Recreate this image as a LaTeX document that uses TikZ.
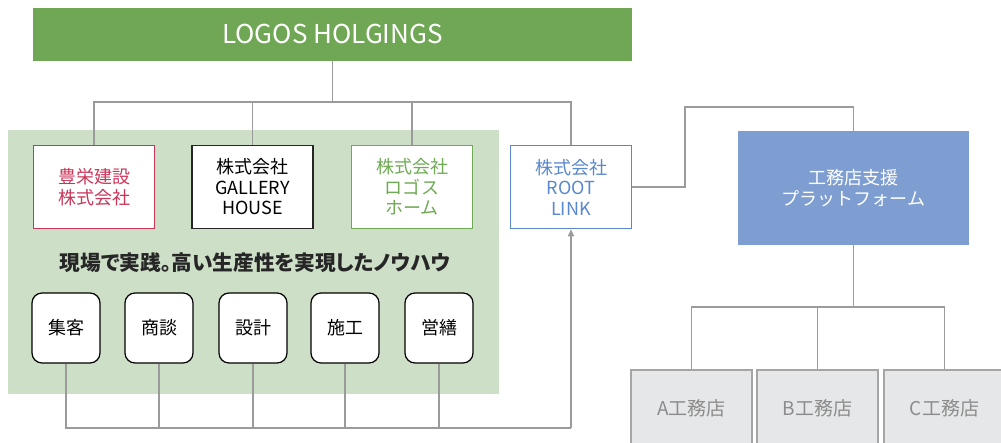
\documentclass[tikz,border=0pt]{standalone}
\usepackage{fontspec}
\setmainfont{Noto Sans CJK JP}
\usetikzlibrary{arrows.meta}
\definecolor{topgreen}{HTML}{70A754}
\definecolor{bggreen}{HTML}{CDDFC7}
\definecolor{redc}{HTML}{C8375A}
\definecolor{greenc}{HTML}{6FAB54}
\definecolor{bluec}{HTML}{5A88CC}
\definecolor{platc}{HTML}{7E9ED2}
\definecolor{grayfill}{HTML}{E6E7E9}
\definecolor{grayline}{HTML}{A5A5A5}
\definecolor{graytext}{HTML}{8C8C8C}
\definecolor{conncol}{HTML}{9B9B9B}
\tikzset{
  conn/.style={draw=conncol, line width=1.5pt},
  cobox/.style={draw, line width=1.5pt, fill=white, minimum width=121pt, minimum height=83pt, align=center, inner sep=0pt, font=\fontsize{18}{20.5}\selectfont},
  rbox/.style={draw=black, line width=1.2pt, fill=white, rounded corners=10pt, minimum width=68pt, minimum height=70pt, inner sep=0pt, font=\fontsize{18}{20}\selectfont},
  shop/.style={draw=grayline, line width=1.5pt, fill=grayfill, text=graytext, minimum width=121pt, minimum height=76pt, inner sep=0pt, font=\fontsize{19}{20}\selectfont},
}
\begin{document}
\begin{tikzpicture}[x=1pt,y=-1pt]
\useasboundingbox (0,0) rectangle (1001,442);
% background area
\node[fill=bggreen, minimum width=491pt, minimum height=264pt, inner sep=0pt] (bg) at (253,262) {};
% top
\node[fill=topgreen, text=white, minimum width=599pt, minimum height=53pt, inner sep=0pt, font=\fontsize{26}{28}\selectfont] (top) at (332.5,34) {LOGOS HOLGINGS};
% companies
\node[cobox, draw=redc, text=redc] (c1) at (94,187) {豊栄建設\\株式会社};
\node[cobox, draw=black!85, text=black] (c2) at (252.5,187) {株式会社\\GALLERY\\HOUSE};
\node[cobox, draw=greenc, text=greenc] (c3) at (412,187) {株式会社\\ロゴス\\ホーム};
\node[cobox, draw=bluec, text=bluec] (c4) at (571,187) {株式会社\\ROOT\\LINK};
% heading
\node[font=\fontsize{20.7}{22}\selectfont\bfseries\addfontfeatures{RawFeature=+palt}, text=black!85] (head) at (255,263) {現場で実践。高い生産性を実現したノウハウ};
% process boxes
\node[rbox] (p1) at (66,328) {集客};
\node[rbox] (p2) at (159,328) {商談};
\node[rbox] (p3) at (253,328) {設計};
\node[rbox] (p4) at (345,328) {施工};
\node[rbox] (p5) at (439,328) {営繕};
% platform
\node[fill=platc, text=white, minimum width=231pt, minimum height=114pt, inner sep=0pt, align=center, font=\fontsize{18}{20.5}\selectfont] (plat) at (853.5,188) {工務店支援\\プラットフォーム};
% shops
\node[shop] (sa) at (691.5,408) {A工務店};
\node[shop] (sb) at (817.5,408) {B工務店};
\node[shop] (sc) at (944.5,408) {C工務店};
% connectors top
\coordinate (bus) at (0,102);
\draw[conn] (top.south) -- (top.south |- bus);
\draw[conn] (c1.north) -- (c1.north |- bus) -- (c4.north |- bus) -- (c4.north);
\draw[conn] (c2.north) -- (c2.north |- bus);
\draw[conn] (c3.north) -- (c3.north |- bus);
% bottom connectors
\coordinate (bot) at (0,428);
\draw[conn] (p1.south) -- (p1.south |- bot) -- (c4.south |- bot);
\draw[conn, -{Triangle[length=7pt,width=6pt]}] (c4.south |- bot) -- (c4.south);
\draw[conn] (p2.south) -- (p2.south |- bot);
\draw[conn] (p3.south) -- (p3.south |- bot);
\draw[conn] (p4.south) -- (p4.south |- bot);
\draw[conn] (p5.south) -- (p5.south |- bot);
% root link to platform
\coordinate (rj) at (685,107);
\draw[conn] (c4.east) -| (rj) -| (plat.north);
% platform to shops
\coordinate (pbus) at (0,307);
\draw[conn] (plat.south) -- (plat.south |- pbus);
\draw[conn] (sa.north) -- (sa.north |- pbus) -- (sc.north |- pbus) -- (sc.north);
\draw[conn] (sb.north) -- (sb.north |- pbus);
\end{tikzpicture}
\end{document}
